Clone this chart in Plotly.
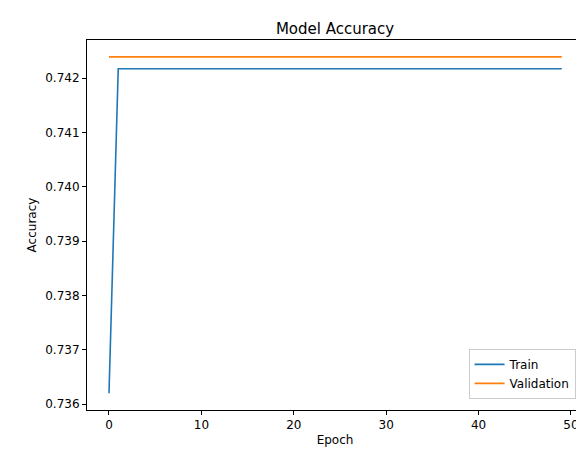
import plotly.graph_objects as go

epochs = list(range(50))
train_acc = [0.73620] + [0.74217] * 49
val_acc = [0.74239] * 50

fig = go.Figure()
fig.add_trace(go.Scatter(x=epochs, y=train_acc, mode="lines", name="Train",
                         line=dict(color="#1f77b4", width=1.6)))
fig.add_trace(go.Scatter(x=epochs, y=val_acc, mode="lines", name="Validation",
                         line=dict(color="#ff7f0e", width=1.6)))

axis_style = dict(showline=True, linecolor="black", linewidth=1, mirror=True,
                  ticks="outside", ticklen=4, tickcolor="black", showgrid=False,
                  zeroline=False, tickfont=dict(size=12, color="black"))

fig.update_layout(
    width=584, height=455,
    margin=dict(l=79, r=9, t=32, b=53),
    paper_bgcolor="white", plot_bgcolor="white",
    font=dict(family="DejaVu Sans", size=12, color="black"),
    title=dict(text="Model Accuracy", x=0.56, xanchor="center", y=0.965,
               font=dict(size=15)),
    showlegend=True,
    legend=dict(x=0.985, y=0.03, xanchor="right", yanchor="bottom",
                bordercolor="#cccccc", borderwidth=1, bgcolor="white",
                font=dict(size=12)),
)
fig.update_xaxes(title_text="Epoch", range=[-2.38, 51.3], tickvals=[0, 10, 20, 30, 40, 50],
                 title_standoff=4, title_font=dict(size=12), **axis_style)
fig.update_yaxes(title_text="Accuracy", range=[0.73589, 0.74270],
                 tickvals=[0.736, 0.737, 0.738, 0.739, 0.740, 0.741, 0.742],
                 tickformat=".3f", title_standoff=6, title_font=dict(size=12), **axis_style)

fig.write_html("out.html")
